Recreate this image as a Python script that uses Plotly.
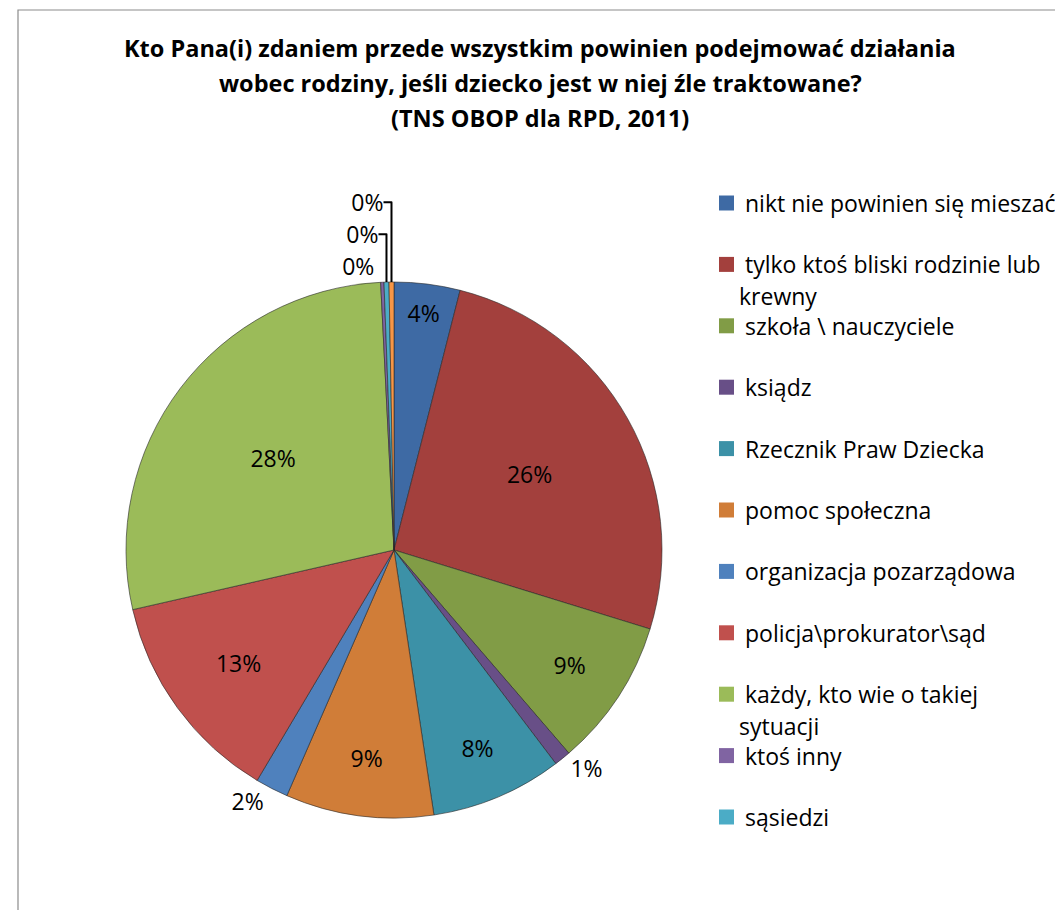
import plotly.graph_objects as go

# ---------------- data ----------------
categories = [
    "nikt nie powinien się mieszać",
    "tylko ktoś bliski rodzinie lub krewny",
    "szkoła \\ nauczyciele",
    "ksiądz",
    "Rzecznik Praw Dziecka",
    "pomoc społeczna",
    "organizacja pozarządowa",
    "policja\\prokurator\\sąd",
    "każdy, kto wie o takiej sytuacji",
    "ktoś inny",
    "sąsiedzi",
    "trudno powiedzieć",
]
values = [4, 26, 9, 1, 8, 9, 2, 13, 28, 0.2, 0.3, 0.3]
colors = [
    "#3E6AA4", "#A3403D", "#819C46", "#684F87", "#3C91A7", "#D07D38",
    "#4F81BD", "#C0504D", "#9BBB59", "#8064A2", "#4BACC6", "#F79646",
]
label_positions = ["inside", "inside", "inside", "outside", "inside", "inside",
                   "outside", "inside", "inside", "outside", "outside", "outside"]
# legend entries as visible in the reference (11 items, some wrapped)
legend_text = [
    "nikt nie powinien się mieszać",
    "tylko ktoś bliski rodzinie lub<br>krewny",
    "szkoła \\ nauczyciele",
    "ksiądz",
    "Rzecznik Praw Dziecka",
    "pomoc społeczna",
    "organizacja pozarządowa",
    "policja\\prokurator\\sąd",
    "każdy, kto wie o takiej<br>sytuacji",
    "ktoś inny",
    "sąsiedzi",
]
title_lines = [
    "Kto Pana(i) zdaniem przede wszystkim powinien podejmować działania",
    "wobec rodziny, jeśli dziecko jest w niej źle traktowane?",
    "(TNS OBOP dla RPD, 2011)",
]

# ---------------- layout helpers ----------------
# the page body has an 8px margin, so the figure starts at (8, 8) in the window
OFF = 8
W, H = 1063 - OFF, 910 - OFF
FONT = "Open Sans"


def px(x):
    return (x - OFF) / W


def py(y):
    return 1 - (y - OFF) / H


pie_cx, pie_cy, pie_r = 394, 550, 268

fig = go.Figure()
fig.add_trace(go.Pie(
    labels=categories,
    values=values,
    sort=False,
    direction="clockwise",
    rotation=0,
    marker=dict(colors=colors, line=dict(color="rgba(40,40,40,0.75)", width=0.8)),
    texttemplate="%{percent:.0%}",
    textposition=label_positions,
    insidetextorientation="horizontal",
    textfont=dict(family=FONT, size=23, color="black"),
    insidetextfont=dict(family=FONT, size=23, color="black"),
    outsidetextfont=dict(family=FONT, size=23, color="black"),
    showlegend=False,
    hoverinfo="label+percent",
    domain=dict(x=[px(pie_cx - pie_r), px(pie_cx + pie_r)],
                y=[py(pie_cy + pie_r), py(pie_cy - pie_r)]),
))

shapes = [dict(type="rect", xref="paper", yref="paper",
               x0=px(18), x1=px(1080), y0=py(930), y1=py(10),
               line=dict(color="#8C8C8C", width=1.2), fillcolor="rgba(0,0,0,0)")]
annotations = []

for i, line in enumerate(title_lines):
    annotations.append(dict(
        text=f"<b>{line}</b>", x=px(540), y=py(48 + 35 * i), xref="paper", yref="paper",
        xanchor="center", yanchor="middle", showarrow=False,
        font=dict(family=FONT, size=23.5, color="black")))

leg_y0, leg_step = 203, 61.4
for i, txt in enumerate(legend_text):
    yc = leg_y0 + leg_step * i
    shapes.append(dict(type="rect", xref="paper", yref="paper",
                       x0=px(719), x1=px(734), y0=py(yc + 7.5), y1=py(yc - 7.5),
                       line=dict(width=0), fillcolor=colors[i]))
    for j, part in enumerate(txt.split("<br>")):
        annotations.append(dict(
            text=part, x=px(743 if j == 0 else 737), y=py(yc + 32 * j),
            xref="paper", yref="paper", xanchor="left", yanchor="middle",
            showarrow=False, font=dict(family=FONT, size=23, color="black")))

fig.update_layout(
    width=W, height=H,
    margin=dict(l=0, r=0, t=0, b=0),
    paper_bgcolor="white",
    plot_bgcolor="white",
    shapes=shapes,
    annotations=annotations,
    font=dict(family=FONT, color="black"),
)

fig.write_html("out.html")
